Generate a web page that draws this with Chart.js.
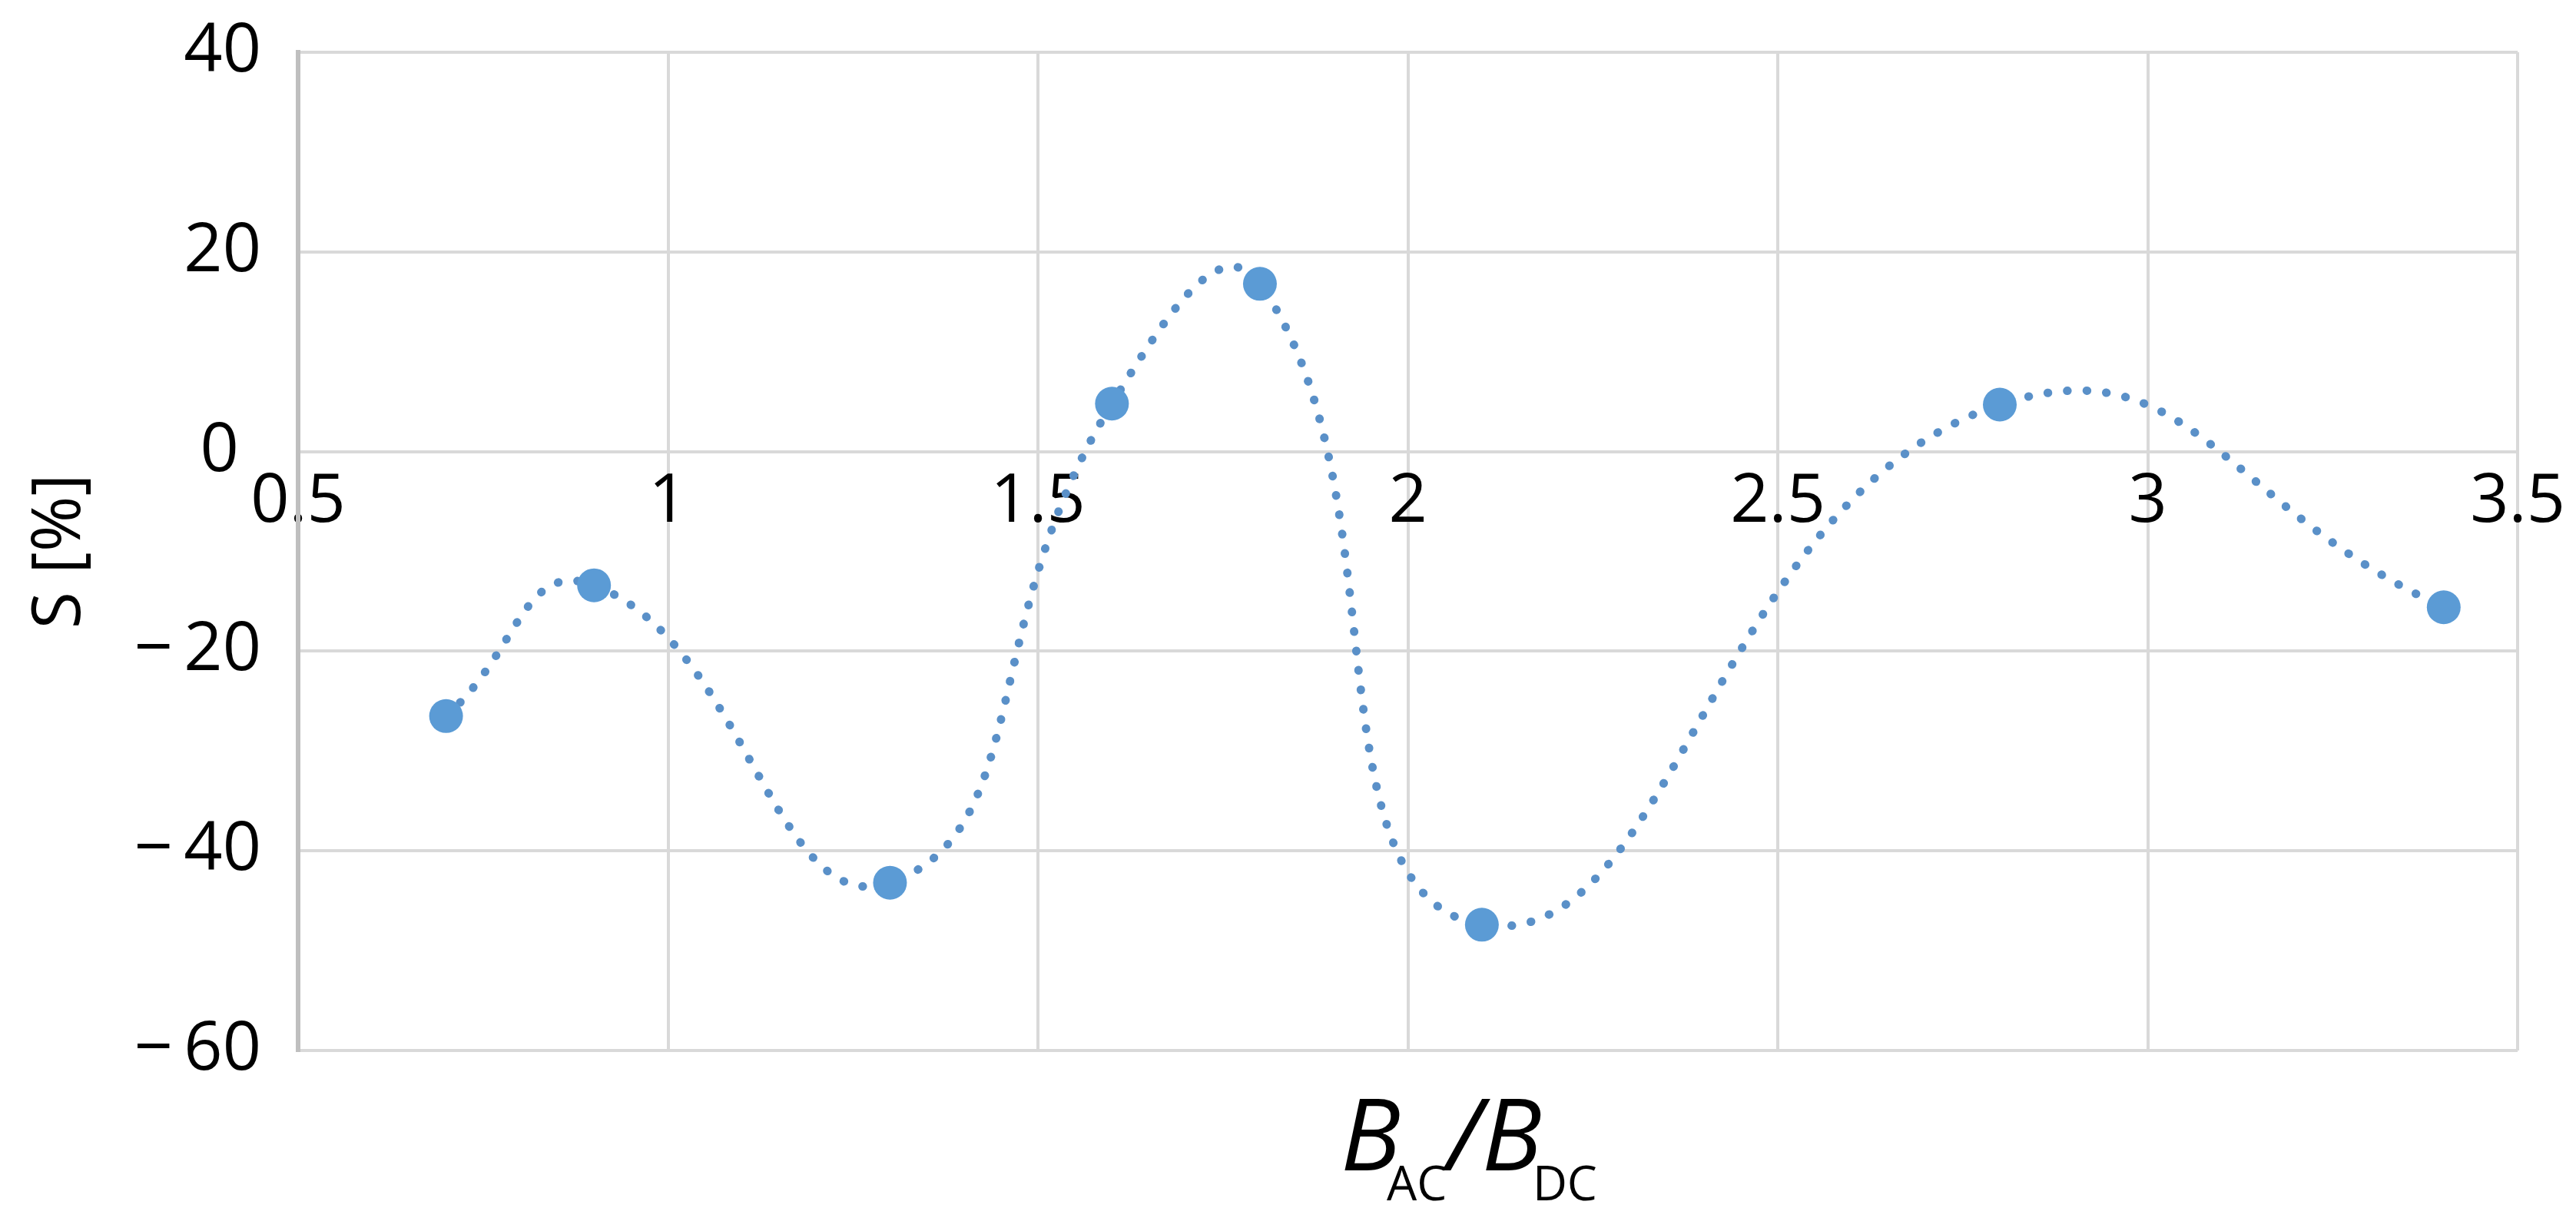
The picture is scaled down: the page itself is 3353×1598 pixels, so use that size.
<!DOCTYPE html>
<html lang="en">
<head>
    <meta charset="UTF-8">
    <title>S vs BAC/BDC</title>
    <script src="https://cdn.jsdelivr.net/npm/chart.js"></script>
    <style>
        body {
            margin: 0;
            padding: 0;
            background-color: #ffffff;
        }

        .container {
            position: relative;
            width: 3353px;
            height: 1598px;
            background-color: #ffffff;
        }

        .x-title {
            position: absolute;
            left: 1745px;
            top: 1408px;
            font-family: "Open Sans", sans-serif;
            font-size: 130px;
            line-height: 1;
            color: #000000;
            white-space: nowrap;
        }

        .x-title i {
            font-style: italic;
        }

        .x-title .sub {
            position: relative;
            top: 39px;
            font-size: 62px;
            font-style: normal;
        }
    </style>
</head>
<body>

    <div class="container">
        <canvas id="chart"></canvas>
        <div class="x-title"><i>B</i><span class="sub" style="margin-left:-18px">AC</span><i>/B</i><span class="sub" style="margin-left:-12px">DC</span></div>
    </div>

    <script>
        // Dados
        const ratios = [0.7, 0.9, 1.3, 1.6, 1.8, 2.1, 2.8, 3.4];
        const sPercent = [-26.5, -13.4, -43.2, 4.8, 16.8, -47.4, 4.7, -15.6];

        // Ticks dos eixos
        const xTicks = [0.5, 1, 1.5, 2, 2.5, 3, 3.5];
        const yTicks = [40, 20, 0, -20, -40, -60];

        const points = ratios.map((x, i) => ({ x: x, y: sPercent[i] }));

        const tickFont = { family: "'Open Sans', sans-serif", size: 88 };

        function yLabel(v) {
            if (v < 0) return '\u2212\u2009' + Math.abs(v);
            if (v === 0) return '0\u2004';
            return String(v);
        }

        const config = {
            type: 'line',
            data: {
                datasets: [{
                    label: 'S',
                    data: points,
                    borderColor: '#5A90C8',
                    borderWidth: 11,
                    borderDash: [0.5, 25],
                    borderCapStyle: 'round',
                    tension: 0.5,
                    fill: false,
                    pointRadius: 22,
                    pointBackgroundColor: '#5B9BD5',
                    pointBorderWidth: 0,
                    pointHoverRadius: 22
                }]
            },
            options: {
                responsive: true,
                maintainAspectRatio: false,
                animation: false,
                layout: {
                    padding: { top: 68, right: 75, bottom: 231, left: 0 }
                },
                plugins: {
                    legend: { display: false },
                    tooltip: { enabled: false }
                },
                scales: {
                    x: {
                        type: 'linear',
                        position: { y: 0 },
                        min: 0.5,
                        max: 3.5,
                        afterBuildTicks: s => { s.ticks = xTicks.map(v => ({ value: v })); },
                        grid: {
                            color: c => c.index === 0 ? '#BFBFBF' : '#D9D9D9',
                            lineWidth: c => c.index === 0 ? 6 : 4,
                            drawTicks: false
                        },
                        border: { display: false },
                        ticks: {
                            autoSkip: false,
                            maxRotation: 0,
                            padding: 14,
                            color: '#000000',
                            font: tickFont,
                            callback: v => String(v)
                        }
                    },
                    y: {
                        min: -60,
                        max: 40,
                        afterBuildTicks: s => { s.ticks = yTicks.map(v => ({ value: v })); },
                        afterFit: s => {
                            s.width = 388;
                            s.paddingTop = 0;
                            s.paddingBottom = 0;
                        },
                        grid: {
                            color: '#D9D9D9',
                            lineWidth: 4,
                            drawTicks: false
                        },
                        border: { display: true, color: '#BFBFBF', width: 6 },
                        ticks: {
                            padding: 48,
                            color: '#000000',
                            font: tickFont,
                            callback: v => yLabel(v)
                        },
                        title: {
                            display: true,
                            text: 'S [%]',
                            color: '#000000',
                            font: { family: "'Open Sans', sans-serif", size: 88 },
                            padding: { top: 26, bottom: 0 }
                        }
                    }
                }
            }
        };

        window.onload = function() {
            new Chart(document.getElementById('chart'), config);
        };
    </script>
</body>
</html>
